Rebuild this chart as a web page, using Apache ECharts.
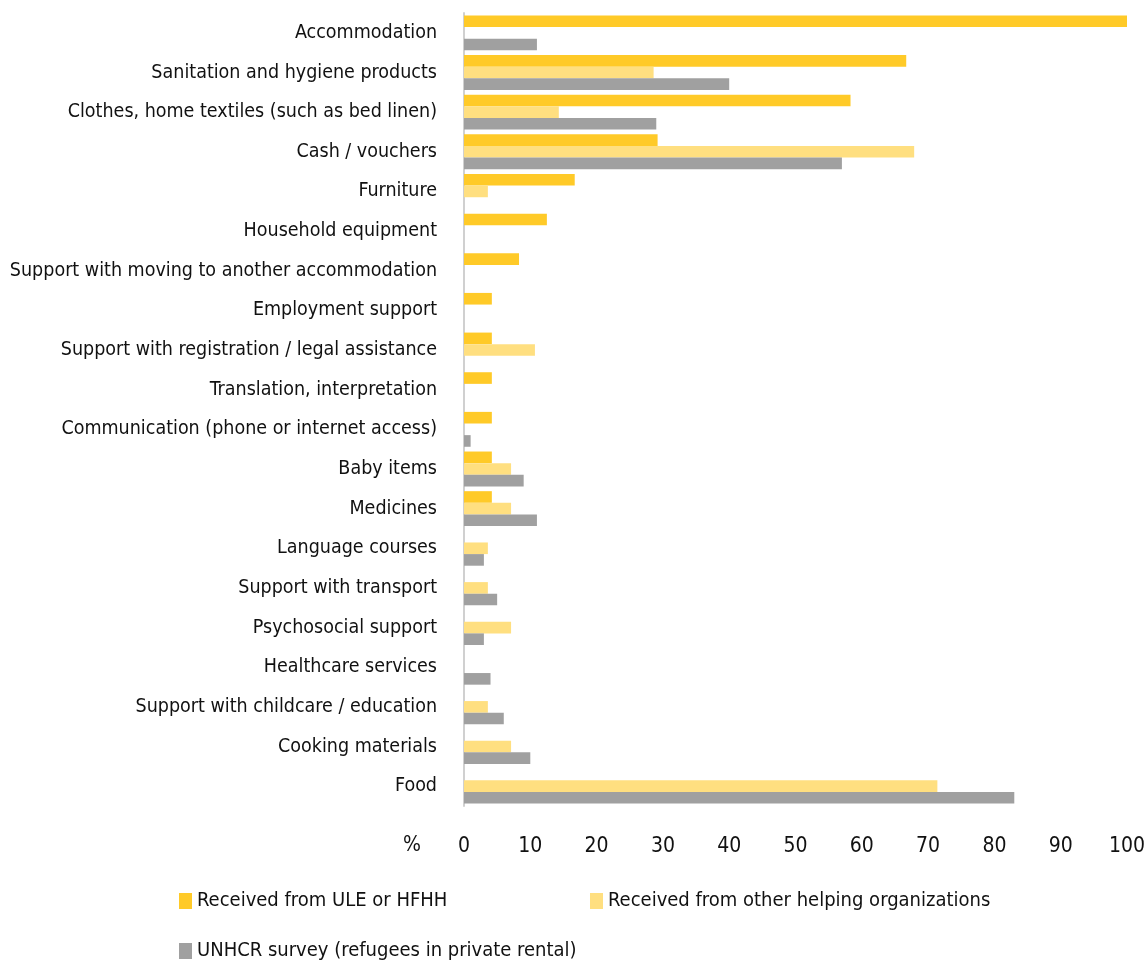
<!DOCTYPE html>
<html><head><meta charset="utf-8">
<script src="https://cdn.jsdelivr.net/npm/echarts@6/dist/echarts.min.js"></script>
<style>html,body{margin:0;padding:0;background:#fff}#c{width:1148px;height:961px}</style>
</head><body><div id="c"></div>
<script>
const categories = ["Accommodation","Sanitation and hygiene products","Clothes, home textiles (such as bed linen)","Cash / vouchers","Furniture","Household equipment","Support with moving to another accommodation","Employment support","Support with registration / legal assistance","Translation, interpretation","Communication (phone or internet access)","Baby items","Medicines","Language courses","Support with transport","Psychosocial support","Healthcare services","Support with childcare / education","Cooking materials","Food"];
const seriesNames = ["Received from ULE or HFHH","Received from other helping organizations","UNHCR survey (refugees in private rental)"];
const uleValues   = [100,66.7,58.3,29.2,16.7,12.5,8.3,4.2,4.2,4.2,4.2,4.2,4.2,0,0,0,0,0,0,0];
const otherValues = [0,28.6,14.3,67.9,3.6,0,0,0,10.7,0,0,7.1,7.1,3.6,3.6,7.1,0,3.6,7.1,71.4];
const unhcrValues = [11,40,29,57,0,0,0,0,0,0,1,9,11,3,5,3,4,6,10,83];
const xTicks = [0,10,20,30,40,50,60,70,80,90,100];
const colors = ["#FFCA28","#FFDF80","#A0A0A0"];
const FONT = "'DejaVu Sans Condensed','Liberation Sans Narrow',sans-serif";

const chart = echarts.init(document.getElementById('c'));
const valsList = [uleValues, otherValues, unhcrValues];
const legendText = {fontFamily:FONT,fontSize:20,color:'#111'};
chart.setOption({
  animation:false,
  textStyle:{fontFamily:FONT},
  grid:{left:464,right:21,top:13,bottom:155,containLabel:false,outerBoundsMode:'none'},
  xAxis:{type:'value',min:xTicks[0],max:xTicks[xTicks.length-1],interval:10,
    axisLine:{show:false},axisTick:{show:false},splitLine:{show:false},
    axisLabel:{fontFamily:FONT,fontSize:21,color:'#111',margin:30}},
  yAxis:{type:'category',data:categories,inverse:true,
    axisLine:{show:true,lineStyle:{color:'#d0d0d0',width:2}},axisTick:{show:false},
    axisLabel:{fontFamily:FONT,fontSize:19.5,color:'#111',margin:27}},
  legend:[
    {data:[seriesNames[0]],left:174,top:886,itemWidth:13,itemHeight:16,icon:'rect',textStyle:legendText},
    {data:[seriesNames[1]],left:585,top:886,itemWidth:13,itemHeight:16,icon:'rect',textStyle:legendText},
    {data:[seriesNames[2]],left:174,top:936,itemWidth:13,itemHeight:16,icon:'rect',textStyle:legendText}
  ],
  graphic:[{type:'text',left:403,top:835,style:{text:'%',font:"21px "+FONT,fill:'#111'}}],
  series: seriesNames.map((n,i)=>({name:n,type:'bar',data:valsList[i],barGap:'0%',barCategoryGap:'12%',
    itemStyle:{color:colors[i]}}))
});
</script></body></html>
